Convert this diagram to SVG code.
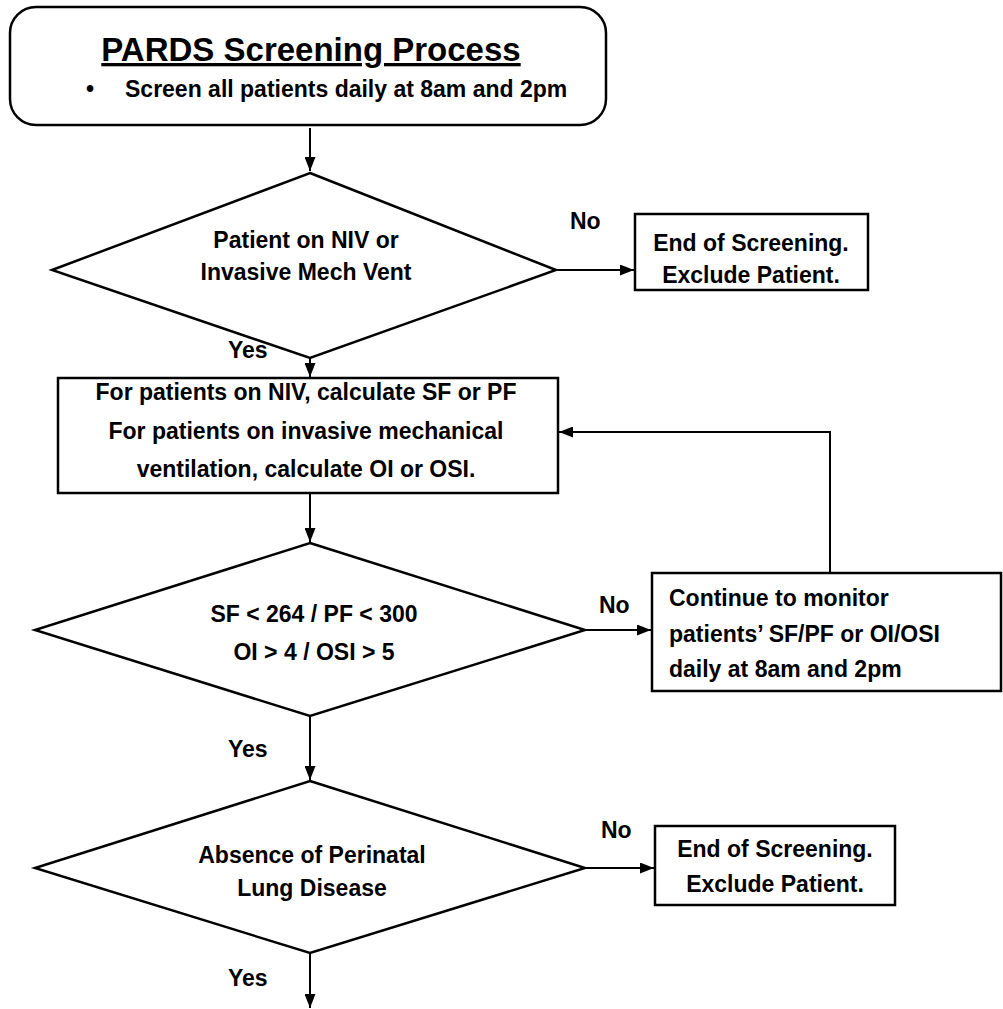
<svg xmlns="http://www.w3.org/2000/svg" width="1003" height="1009" viewBox="0 0 1003 1009">
<style>
  .shape { fill: #ffffff; stroke: #000000; stroke-width: 2.5; }
  .t { font-family: "Liberation Sans", Arial, sans-serif; font-weight: bold; font-size: 23px; fill: #000000; }
  .c { text-anchor: middle; }
  .conn { fill: none; stroke: #000000; stroke-width: 2; }
</style>
<defs>
  <marker id="arrow" viewBox="0 0 14 11" refX="14" refY="5.5" markerWidth="14" markerHeight="11" markerUnits="userSpaceOnUse" orient="auto">
    <path d="M0,0 L14,5.5 L0,11 z" fill="#000000"/>
  </marker>
</defs>
<rect width="1003" height="1009" fill="#ffffff"/>

<g id="connectors">
  <line class="conn" x1="310" y1="128" x2="310" y2="171" marker-end="url(#arrow)"/>
  <line class="conn" x1="556" y1="270" x2="634" y2="270" marker-end="url(#arrow)"/>
  <line class="conn" x1="310" y1="358" x2="310" y2="377" marker-end="url(#arrow)"/>
  <line class="conn" x1="310" y1="493" x2="310" y2="542" marker-end="url(#arrow)"/>
  <line class="conn" x1="585" y1="630" x2="651" y2="630" marker-end="url(#arrow)"/>
  <polyline class="conn" points="830,573 830,432 559,432" marker-end="url(#arrow)"/>
  <line class="conn" x1="310" y1="716" x2="310" y2="780" marker-end="url(#arrow)"/>
  <line class="conn" x1="585" y1="868" x2="654" y2="868" marker-end="url(#arrow)"/>
  <line class="conn" x1="310" y1="953" x2="310" y2="1008" marker-end="url(#arrow)"/>
  <text class="t" x="570" y="229">No</text>
  <text class="t" x="228" y="358">Yes</text>
  <text class="t" x="599" y="613">No</text>
  <text class="t" x="228" y="757">Yes</text>
  <text class="t" x="601" y="838">No</text>
  <text class="t" x="228" y="986">Yes</text>
</g>

<g id="start">
  <rect class="shape" x="10" y="7" width="596" height="118" rx="26" ry="26"/>
  <text class="t c" x="311" y="61" style="font-size:33px; text-decoration:underline">PARDS Screening Process</text>
  <text class="t" x="86" y="97">•</text>
  <text class="t" x="125" y="97">Screen all patients daily at 8am and 2pm</text>
</g>

<g id="d1">
  <polygon class="shape" points="310,173 556,270 310,358 52,270"/>
  <text class="t c" x="306" y="248">Patient on NIV or</text>
  <text class="t c" x="306" y="280">Invasive Mech Vent</text>
</g>

<g id="end1">
  <rect class="shape" x="635" y="214" width="233" height="76"/>
  <text class="t c" x="751" y="251">End of Screening.</text>
  <text class="t c" x="751" y="283">Exclude Patient.</text>
</g>

<g id="calc">
  <rect class="shape" x="58" y="378" width="500" height="115"/>
  <text class="t c" x="306" y="400">For patients on NIV, calculate SF or PF</text>
  <text class="t c" x="306" y="439">For patients on invasive mechanical</text>
  <text class="t c" x="306" y="477">ventilation, calculate OI or OSI.</text>
</g>

<g id="d2">
  <polygon class="shape" points="310,543 585,630 310,716 35,630"/>
  <text class="t c" x="314" y="622">SF &lt; 264 / PF &lt; 300</text>
  <text class="t c" x="314" y="660">OI &gt; 4 / OSI &gt; 5</text>
</g>

<g id="monitor">
  <rect class="shape" x="652" y="573" width="349" height="118"/>
  <text class="t" x="669" y="606">Continue to monitor</text>
  <text class="t" x="669" y="642">patients’ SF/PF or OI/OSI</text>
  <text class="t" x="669" y="677">daily at 8am and 2pm</text>
</g>

<g id="d3">
  <polygon class="shape" points="310,781 585,868 310,953 35,868"/>
  <text class="t c" x="312" y="863">Absence of Perinatal</text>
  <text class="t c" x="312" y="896">Lung Disease</text>
</g>

<g id="end2">
  <rect class="shape" x="655" y="826" width="240" height="79"/>
  <text class="t c" x="775" y="857">End of Screening.</text>
  <text class="t c" x="775" y="892">Exclude Patient.</text>
</g>
</svg>
